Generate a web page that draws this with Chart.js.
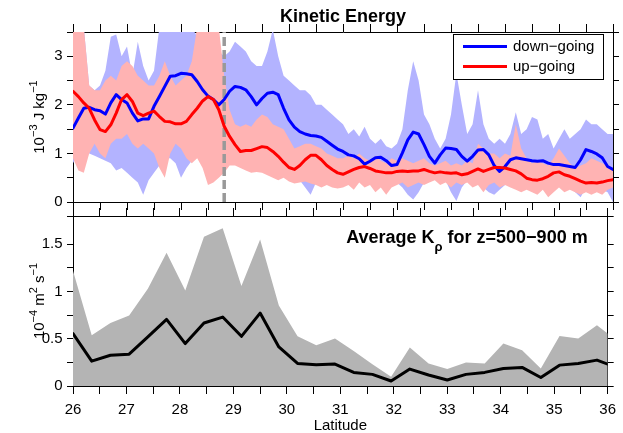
<!DOCTYPE html>
<html>
<head>
<meta charset="utf-8">
<script src="https://cdn.jsdelivr.net/npm/chart.js@4.4.0/dist/chart.umd.min.js"></script>
<style>
  html, body { margin: 0; padding: 0; background: #fff; }
  #wrap { position: relative; width: 623px; height: 433px; }
  .box { position: absolute; left: 0; width: 623px; }
  #top { top: 0; height: 214px; }
  #bot { top: 204px; height: 229px; }
</style>
</head>
<body>
<div id="wrap">
  <div class="box" id="top"><canvas id="keChart"></canvas></div>
  <div class="box" id="bot"><canvas id="kChart"></canvas></div>
</div>
<script>
// latitude grid of the kinetic energy profiles
const lat = [26.0,26.1,26.2,26.3,26.4,26.5,26.6,26.7,26.8,26.9,
  27.0,27.1,27.2,27.3,27.4,27.5,27.6,27.7,27.8,27.9,
  28.0,28.1,28.2,28.3,28.4,28.5,28.6,28.7,28.8,28.9,
  29.0,29.1,29.2,29.3,29.4,29.5,29.6,29.7,29.8,29.9,
  30.0,30.1,30.2,30.3,30.4,30.5,30.6,30.7,30.8,30.9,
  31.0,31.1,31.2,31.3,31.4,31.5,31.6,31.7,31.8,31.9,
  32.0,32.1,32.2,32.3,32.4,32.5,32.6,32.7,32.8,32.9,
  33.0,33.1,33.2,33.3,33.4,33.5,33.6,33.7,33.8,33.9,
  34.0,34.1,34.2,34.3,34.4,34.5,34.6,34.7,34.8,34.9,
  35.0,35.1,35.2,35.3,35.4,35.5,35.6,35.7,35.8,35.9,36.0];

const downGoing = [1.52,1.73,1.93,1.95,1.90,1.88,1.81,2.04,2.21,2.11,
  2.04,1.83,1.67,1.71,1.71,1.97,2.17,2.38,2.59,2.60,
  2.65,2.64,2.62,2.48,2.31,2.18,2.11,2.00,2.11,2.28,
  2.38,2.36,2.31,2.17,2.00,2.13,2.24,2.26,2.21,1.93,
  1.69,1.54,1.45,1.40,1.37,1.36,1.33,1.25,1.17,1.09,
  1.04,0.97,0.95,0.89,0.78,0.84,0.91,0.92,0.85,0.75,
  0.77,1.01,1.28,1.44,1.40,1.18,0.94,0.80,0.97,1.11,
  1.10,1.08,0.94,0.84,0.94,1.07,1.08,0.97,0.75,0.63,
  0.73,0.87,0.91,0.89,0.87,0.85,0.84,0.85,0.80,0.77,
  0.77,0.75,0.73,0.71,0.87,1.08,1.04,0.99,0.91,0.73,0.67];

const upGoing = [2.28,2.17,2.04,1.93,1.69,1.49,1.45,1.59,1.83,2.11,
  2.21,2.07,1.83,1.78,1.83,1.87,1.76,1.66,1.65,1.61,
  1.61,1.66,1.80,1.93,2.08,2.17,2.11,1.90,1.56,1.35,
  1.18,1.04,1.06,1.06,1.10,1.14,1.12,1.04,0.94,0.82,
  0.71,0.67,0.75,0.87,0.96,0.96,0.87,0.75,0.67,0.60,
  0.57,0.62,0.67,0.71,0.73,0.69,0.64,0.62,0.60,0.60,
  0.63,0.64,0.63,0.64,0.64,0.67,0.63,0.60,0.62,0.60,
  0.59,0.60,0.56,0.58,0.63,0.68,0.63,0.67,0.71,0.71,
  0.70,0.67,0.64,0.58,0.49,0.46,0.45,0.48,0.53,0.60,
  0.62,0.56,0.53,0.48,0.43,0.39,0.40,0.39,0.41,0.44,0.46];

const downHigh = [3.6,3.6,3.6,2.4,2.3,2.4,2.7,3.4,3.45,3.0,
  3.2,2.6,3.3,2.8,2.5,2.7,3.6,3.6,3.6,3.6,
  3.6,3.6,3.6,3.4,3.2,3.0,3.0,3.1,3.0,3.1,
  3.3,3.2,3.1,2.9,2.8,2.8,3.1,3.55,3.0,2.6,
  2.5,2.4,2.3,2.3,2.2,2.0,2.0,1.9,1.8,1.7,
  1.6,1.4,1.5,1.35,1.55,1.3,1.2,1.3,1.15,1.1,
  1.2,1.5,2.3,2.9,2.5,1.8,1.6,1.3,1.1,1.3,
  1.8,2.65,2.0,1.4,1.6,2.3,1.6,1.3,1.2,1.3,
  1.2,1.4,1.85,1.4,1.5,1.75,1.7,1.3,1.4,1.1,
  1.3,1.5,1.3,1.4,1.5,1.7,1.6,1.6,1.5,1.4,1.4];

const downLow = [0.8,1.0,1.1,1.0,0.95,0.9,0.85,0.8,0.65,0.7,
  0.6,0.5,0.4,0.15,0.45,0.6,0.75,0.9,0.9,0.8,
  0.5,0.7,0.85,0.95,1.0,0.9,0.9,1.0,1.0,1.1,
  1.2,1.1,1.0,1.1,1.0,1.0,0.9,0.8,0.7,0.6,
  0.55,0.5,0.45,0.3,0.15,0.4,0.45,0.4,0.4,0.35,
  0.4,0.4,0.35,0.45,0.4,0.4,0.3,0.35,0.3,0.35,
  0.4,0.3,0.15,0.05,0.2,0.4,0.45,0.5,0.4,0.45,
  0.2,0.02,0.3,0.45,0.4,0.4,0.3,0.2,0.15,0.25,
  0.35,0.35,0.3,0.3,0.3,0.25,0.3,0.3,0.25,0.3,
  0.35,0.3,0.3,0.2,0.1,0.3,0.25,0.3,0.25,0.2,0.0];

const upHigh = [3.6,3.6,3.6,2.4,2.3,2.3,2.5,2.6,2.5,2.8,
  2.9,2.8,2.6,2.5,2.4,2.4,2.6,2.9,2.6,2.4,
  2.5,2.6,2.9,3.6,3.6,3.6,3.6,3.6,2.6,1.9,
  1.6,1.55,1.6,1.55,1.7,1.8,1.75,1.6,1.55,1.5,
  1.3,1.1,1.15,1.2,1.2,1.15,1.1,1.0,0.95,0.9,
  0.9,0.95,0.9,1.0,0.9,0.85,0.95,0.85,0.8,0.9,
  0.85,0.9,0.85,0.8,0.85,0.9,0.8,0.75,0.8,0.85,
  0.75,0.8,0.75,0.85,0.8,1.2,1.1,1.0,1.0,0.9,
  1.0,0.95,1.6,1.1,0.9,0.8,0.85,0.8,0.75,0.9,
  1.1,0.95,0.8,0.7,0.75,0.8,0.9,0.85,0.8,0.75,0.7];

const upLow = [0.9,0.65,0.6,1.0,1.2,1.0,0.9,1.2,1.3,1.3,
  1.4,1.2,1.1,1.2,1.1,1.0,0.7,0.5,1.0,1.2,
  1.1,0.9,0.8,0.9,0.7,0.35,0.4,0.5,0.6,0.75,
  0.75,0.7,0.65,0.6,0.62,0.6,0.55,0.5,0.45,0.5,
  0.42,0.38,0.4,0.42,0.38,0.35,0.3,0.35,0.3,0.28,
  0.3,0.35,0.25,0.4,0.3,0.35,0.2,0.3,0.15,0.3,
  0.35,0.4,0.3,0.35,0.4,0.35,0.4,0.45,0.35,0.4,
  0.3,0.4,0.35,0.4,0.3,0.35,0.2,0.35,0.4,0.3,
  0.35,0.3,0.25,0.2,0.25,0.2,0.15,0.25,0.1,0.2,
  0.3,0.2,0.25,0.2,0.15,0.2,0.15,0.2,0.15,0.25,0.3];

const dividerLat = 28.8;

// average K_rho for z = 500-900 m
const kLat = [26.0,26.35,26.7,27.05,27.4,27.75,28.1,28.45,28.8,29.15,
  29.5,29.85,30.2,30.55,30.9,31.25,31.6,31.95,32.3,32.65,
  33.0,33.35,33.7,34.05,34.4,34.75,35.1,35.45,35.8,36.15];
const kMean = [0.555,0.263,0.326,0.337,0.52,0.705,0.449,0.667,0.73,0.526,
  0.772,0.414,0.239,0.225,0.232,0.144,0.123,0.053,0.179,0.116,
  0.063,0.123,0.144,0.186,0.197,0.09,0.221,0.239,0.274,0.2];
const kHigh = [1.22,0.537,0.667,0.747,1.03,1.41,1.01,1.58,1.67,1.06,
  1.55,0.853,0.526,0.432,0.502,0.37,0.23,0.098,0.407,0.238,
  0.179,0.249,0.238,0.449,0.379,0.186,0.53,0.502,0.642,0.49];

const latLabels = [26,27,28,29,30,31,32,33,34,35,36];
const keLabels = [0,1,2,3];
const kLabels = [0,0.5,1,1.5];
const keMax = 3.5, kMax = 1.8;

const black = '#000';
const FONT = "'Liberation Sans', Arial, sans-serif";
const tickFont = { family: FONT, size: 15, lineHeight: 1 };

const pts = (xs, ys) => xs.map((x, i) => ({ x: x, y: ys[i] }));

function xAxis(position, showLabels, height, title) {
  return {
    type: 'linear', position: position, min: 26, max: 36,
    afterFit: s => { s.height = height; },
    grid: { drawOnChartArea: false, tickLength: 8, tickColor: black },
    border: { color: black },
    ticks: { display: showLabels, stepSize: 0.5, autoSkip: false, maxRotation: 0, color: black,
      font: { family: FONT, size: 15 }, padding: 7,
      callback: v => latLabels.includes(v) ? v : '' },
    title: title ? { display: true, text: title, color: black, font: { family: FONT, size: 15, lineHeight: 0.9 }, padding: 0 }
                 : { display: false }
  };
}

function yAxis(position, max, step, labels, width) {
  return {
    type: 'linear', position: position, min: 0, max: max,
    afterFit: s => { s.width = width; },
    grid: { drawOnChartArea: false, tickLength: 6, tickColor: black },
    border: { color: black },
    ticks: { display: position === 'left', stepSize: step, autoSkip: false, color: black, font: tickFont, padding: 4.5,
      callback: v => labels.includes(v) ? v : '' }
  };
}

// text with super/subscripts: parts = [[text, shift]], shift 1 = sup, -1 = sub
function richText(ctx, parts, x, y, size, bold, align) {
  const fontOf = s => (bold ? 'bold ' : '') + (s ? Math.round(size * 0.72) : size) + 'px ' + FONT;
  let total = 0;
  for (const [t, s] of parts) { ctx.font = fontOf(s); total += ctx.measureText(t).width; }
  let cx = align === 'center' ? x - total / 2 : align === 'right' ? x - total : x;
  ctx.textAlign = 'left';
  ctx.textBaseline = 'alphabetic';
  for (const [t, s] of parts) {
    ctx.font = fontOf(s);
    ctx.fillText(t, cx, y - s * size * 0.45);
    cx += ctx.measureText(t).width;
  }
}

function yTitle(parts) {
  return {
    id: 'yTitle',
    afterDraw(chart) {
      const { ctx, chartArea: a } = chart;
      ctx.save();
      ctx.translate(38, (a.top + a.bottom) / 2);
      ctx.rotate(-Math.PI / 2);
      ctx.fillStyle = black;
      richText(ctx, parts, 0, 5.5, 15, false, 'center');
      ctx.restore();
    }
  };
}

// legend: down-going first, then up-going
const legendEntries = [1, 0];
const keLegend = {
  id: 'keLegend',
  afterDatasetsDraw(chart) {
    const { ctx, chartArea: a } = chart;
    const bx = a.right - 160, by = a.top + 2, bw = 150, bh = 45;
    ctx.save();
    ctx.fillStyle = '#fff';
    ctx.fillRect(bx, by, bw, bh);
    ctx.strokeStyle = black;
    ctx.lineWidth = 1;
    ctx.strokeRect(bx + 0.5, by + 0.5, bw, bh);
    legendEntries.forEach((idx, i) => {
      const ds = chart.data.datasets[idx];
      const y = by + 12.5 + i * 20;
      ctx.strokeStyle = ds.borderColor;
      ctx.lineWidth = ds.borderWidth;
      ctx.beginPath(); ctx.moveTo(bx + 10, y); ctx.lineTo(bx + 54, y); ctx.stroke();
      ctx.fillStyle = black;
      ctx.font = '15px ' + FONT;
      ctx.textBaseline = 'middle';
      ctx.fillText(ds.label, bx + 60, y);
    });
    ctx.restore();
  }
};

const kTitle = {
  id: 'kTitle',
  afterDatasetsDraw(chart) {
    const { ctx, chartArea: a } = chart;
    ctx.save();
    ctx.fillStyle = black;
    richText(ctx, [['Average K', 0], ['\u03c1', -1], [' for z=500\u2212900 m', 0]], a.right - 20, a.top + 27, 18, true, 'right');
    ctx.restore();
  }
};

const line = (label, data, color, order) => ({
  label: label, data: data, borderColor: color, borderWidth: 3, order: order,
  pointRadius: 0, fill: false, tension: 0, borderJoinStyle: 'round', borderCapStyle: 'round'
});
const band = (data, color, fill, order) => ({
  data: data, borderColor: 'transparent', borderWidth: 0, backgroundColor: color,
  pointRadius: 0, fill: fill, order: order, tension: 0
});

new Chart(document.getElementById('keChart'), {
  type: 'line',
  data: {
    datasets: [
      line('up\u2212going', pts(lat, upGoing), '#ff0000', 0),
      line('down\u2212going', pts(lat, downGoing), '#0000ff', 1),
      { data: [{ x: dividerLat, y: 0 }, { x: dividerLat, y: keMax }], borderColor: '#999999', borderWidth: 3.5,
        borderDash: [9, 4], pointRadius: 0, fill: false, order: 2 },
      band(pts(lat, upLow), 'transparent', false, 3),
      band(pts(lat, upHigh), '#ffb3b3', '-1', 3),
      band(pts(lat, downLow), 'transparent', false, 4),
      band(pts(lat, downHigh), '#b3b3ff', '-1', 4)
    ]
  },
  options: {
    responsive: true,
    maintainAspectRatio: false,
    animation: false,
    layout: { padding: 0, autoPadding: false },
    scales: {
      x: xAxis('bottom', false, 12),
      x2: xAxis('top', false, 4.4),
      y: yAxis('left', keMax, 0.5, keLabels, 73),
      y2: yAxis('right', keMax, 0.5, keLabels, 10)
    },
    plugins: {
      legend: { display: false },
      tooltip: { enabled: false },
      title: { display: true, fullSize: false, text: 'Kinetic Energy', color: black,
        font: { family: FONT, size: 18, weight: 'bold', lineHeight: 1.2 }, padding: { top: 6, bottom: 0 } }
    }
  },
  plugins: [keLegend, yTitle([['10', 0], ['\u22123', 1], [' J kg', 0], ['\u22121', 1]])]
});

new Chart(document.getElementById('kChart'), {
  type: 'line',
  data: {
    datasets: [
      line('mean', pts(kLat, kMean), black, 0),
      band(pts(kLat, kHigh), '#b4b4b4', 'origin', 1)
    ]
  },
  options: {
    responsive: true,
    maintainAspectRatio: false,
    animation: false,
    layout: { padding: 0, autoPadding: false },
    scales: {
      x: xAxis('bottom', true, 47, 'Latitude'),
      x2: xAxis('top', false, 12),
      y: yAxis('left', kMax, 0.25, kLabels, 73),
      y2: yAxis('right', kMax, 0.25, kLabels, 10)
    },
    plugins: { legend: { display: false }, tooltip: { enabled: false } }
  },
  plugins: [kTitle, yTitle([['10', 0], ['\u22124', 1], [' m', 0], ['2', 1], [' s', 0], ['\u22121', 1]])]
});
</script>
</body>
</html>
